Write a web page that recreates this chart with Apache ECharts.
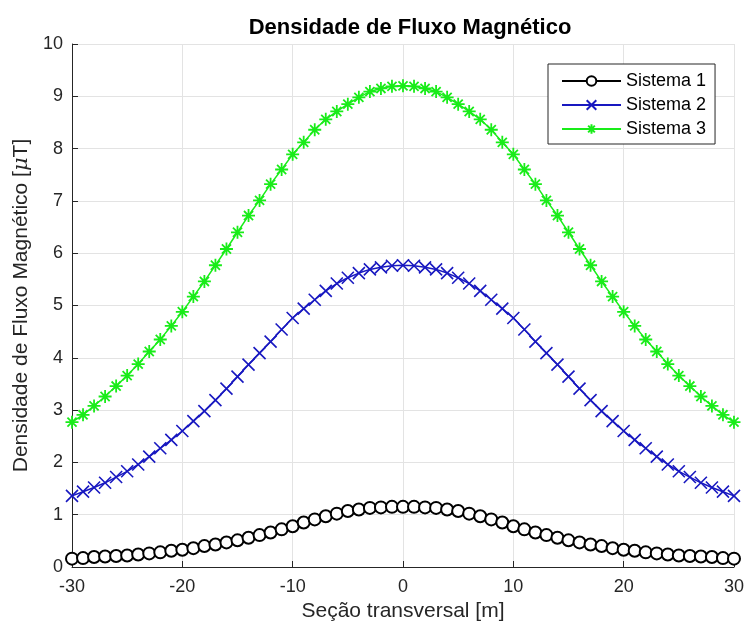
<!DOCTYPE html>
<html>
<head>
<meta charset="utf-8">
<script src="https://cdn.jsdelivr.net/npm/echarts@6/dist/echarts.min.js"></script>
<style>
  html, body { margin: 0; padding: 0; background: #fff; }
  #chart { width: 747px; height: 635px; }
</style>
</head>
<body>
<div id="chart"></div>
<script>
// posição ao longo da seção transversal [m]
var posicoes = [-30,-29,-28,-27,-26,-25,-24,-23,-22,-21,-20,-19,-18,-17,-16,-15,-14,-13,-12,-11,
    -10,-9,-8,-7,-6,-5,-4,-3,-2,-1,0,1,2,3,4,5,6,7,8,9,10,11,12,13,14,15,16,17,18,19,20,
    21,22,23,24,25,26,27,28,29,30];
// densidade de fluxo [uT]
var sistema1 = [0.16,0.17,0.19,0.20,0.21,0.22,0.24,0.26,0.28,0.31,0.33,0.36,0.40,0.43,0.47,0.51,
    0.56,0.61,0.66,0.72,0.78,0.85,0.91,0.97,1.02,1.07,1.10,1.13,1.14,1.15,1.15,1.15,1.14,1.13,
    1.10,1.07,1.02,0.97,0.91,0.85,0.78,0.72,0.66,0.61,0.56,0.51,0.47,0.43,0.40,0.36,0.33,0.31,
    0.28,0.26,0.24,0.22,0.21,0.20,0.19,0.17,0.16];
var sistema2 = [1.36,1.44,1.52,1.61,1.72,1.83,1.96,2.11,2.27,2.43,2.60,2.79,2.98,3.19,3.41,3.64,
    3.87,4.09,4.31,4.54,4.76,4.94,5.11,5.28,5.42,5.53,5.62,5.69,5.73,5.76,5.77,5.76,5.73,5.69,
    5.62,5.53,5.42,5.28,5.11,4.94,4.76,4.54,4.31,4.09,3.87,3.64,3.41,3.19,2.98,2.79,2.60,2.43,
    2.27,2.11,1.96,1.83,1.72,1.61,1.52,1.44,1.36];
var sistema3 = [2.77,2.91,3.08,3.26,3.46,3.66,3.88,4.12,4.35,4.61,4.88,5.17,5.46,5.77,6.08,6.40,
    6.72,7.01,7.32,7.60,7.89,8.12,8.36,8.56,8.71,8.85,8.98,9.09,9.15,9.19,9.20,9.19,9.15,9.09,
    8.98,8.85,8.71,8.56,8.36,8.12,7.89,7.60,7.32,7.01,6.72,6.40,6.08,5.77,5.46,5.17,4.88,4.61,
    4.35,4.12,3.88,3.66,3.46,3.26,3.08,2.91,2.77];
var nomes = ['Sistema 1', 'Sistema 2', 'Sistema 3'];

function pares(ys){
    return posicoes.map(function(x, i){ return [x, ys[i]]; });
}

var fonte = '"Liberation Sans", Arial, sans-serif';
var simboloX = 'path://M0,0 L10,10 M10,0 L0,10';
var simboloAst = 'path://M5,0 L5,10 M0,5 L10,5 M1.5,1.5 L8.5,8.5 M8.5,1.5 L1.5,8.5';

var grafico = echarts.init(document.getElementById('chart'));
grafico.setOption({
    backgroundColor: '#fff',
    animation: false,
    textStyle: { fontFamily: fonte },
    title: {
        text: 'Densidade de Fluxo Magnético',
        left: 405, top: 12,
        textAlign: 'center',
        textStyle: { fontSize: 22, fontWeight: 'bold', color: '#000', fontFamily: fonte }
    },
    grid: { left: 72, right: 11, top: 44, bottom: 68 },
    legend: {
        data: nomes,
        orient: 'vertical',
        left: 548, top: 64,
        padding: [8, 9, 6, 13],
        itemGap: 6,
        itemWidth: 59,
        itemHeight: 12,
        backgroundColor: '#fff',
        borderColor: '#262626',
        borderWidth: 1,
        textStyle: { fontSize: 18, color: '#000', fontFamily: fonte }
    },
    xAxis: {
        type: 'value',
        min: -30, max: 30, interval: 10,
        name: 'Seção transversal [m]',
        nameLocation: 'middle',
        nameGap: 32,
        nameTextStyle: { fontSize: 21, color: '#262626' },
        axisLine: { onZero: false, lineStyle: { color: '#262626', width: 1 } },
        axisTick: { inside: true, length: 6, lineStyle: { color: '#262626' } },
        axisLabel: { fontSize: 18, color: '#262626', margin: 11 },
        splitLine: { show: true, lineStyle: { color: '#e3e3e3', width: 1 } }
    },
    yAxis: {
        type: 'value',
        min: 0, max: 10, interval: 1,
        name: '{a|Densidade de Fluxo Magnético [}{i|μ}{a|T]}',
        nameLocation: 'middle',
        nameGap: 40,
        nameTextStyle: {
            rich: {
                a: { fontSize: 21, color: '#262626', fontFamily: fonte },
                i: { fontSize: 21, color: '#262626', fontStyle: 'italic', fontFamily: 'DejaVu Serif' }
            }
        },
        axisLine: { show: true, onZero: false, lineStyle: { color: '#262626', width: 1 } },
        axisTick: { inside: true, length: 6, lineStyle: { color: '#262626' } },
        axisLabel: { fontSize: 18, color: '#262626', margin: 9 },
        splitLine: { show: true, lineStyle: { color: '#e3e3e3', width: 1 } }
    },
    series: [
        {
            name: nomes[0], type: 'line', data: pares(sistema1),
            symbol: 'emptyCircle', symbolSize: 12,
            lineStyle: { color: '#000', width: 1.4 },
            itemStyle: { color: '#000', borderColor: '#000', borderWidth: 1.5 }
        },
        {
            name: nomes[1], type: 'line', data: pares(sistema2),
            symbol: simboloX, symbolSize: 12,
            lineStyle: { color: '#1818c0', width: 1.5 },
            itemStyle: { color: 'rgba(0,0,0,0)', borderColor: '#1818c0', borderWidth: 1.6 }
        },
        {
            name: nomes[2], type: 'line', data: pares(sistema3),
            symbol: simboloAst, symbolSize: 13,
            lineStyle: { color: '#19ec19', width: 1.5 },
            itemStyle: { color: 'rgba(0,0,0,0)', borderColor: '#19ec19', borderWidth: 1.8 }
        }
    ]
});
</script>
</body>
</html>
